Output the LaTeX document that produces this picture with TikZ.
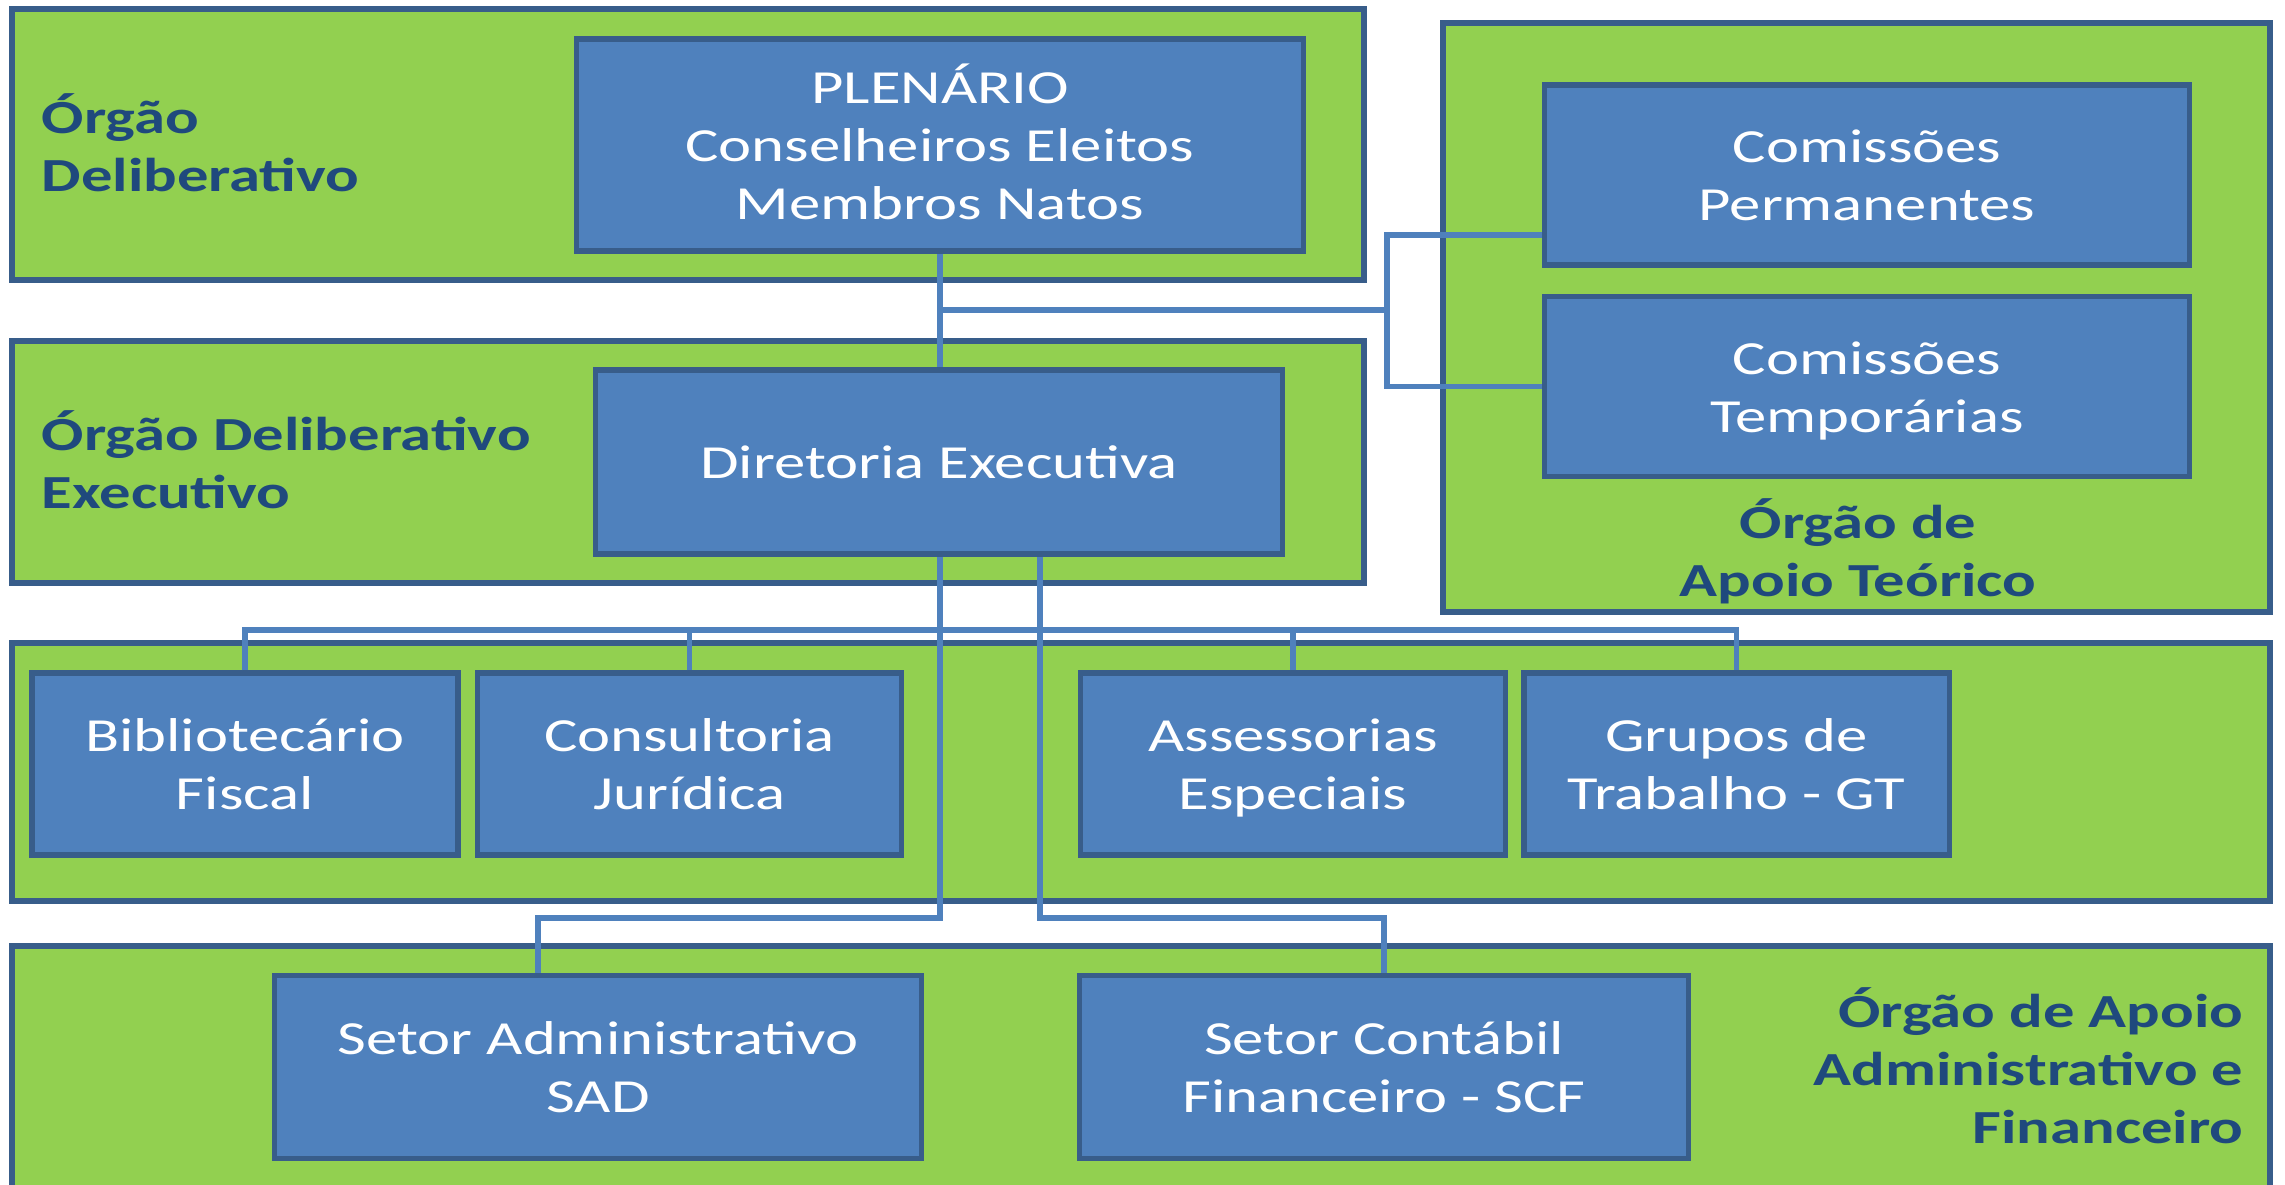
\documentclass[tikz,border=0pt]{standalone}
\usepackage{fontspec}
\setmainfont[FakeStretch=1.32]{Carlito}
\usepackage{tikz}
\usetikzlibrary{positioning, calc}
\definecolor{verde}{HTML}{92D050}
\definecolor{azul}{HTML}{4F81BD}
\definecolor{borda}{HTML}{385D8A}
\definecolor{titulo}{HTML}{1F497D}
% alturas fixas da primeira e da ultima linha
\newcommand{\altura}{\rule{0pt}{13pt}}
\newcommand{\fundo}{\rule[-3.5pt]{0pt}{3.5pt}}
\tikzstyle{faixa} = [draw=borda,fill=verde,line width=1.5pt]
\tikzstyle{caixa} = [rectangle,draw=borda,fill=azul,line width=1.5pt,text=white,align=center,inner sep=0pt,minimum height=1.82cm,font=\fontsize{13.5}{16.5}\selectfont]
\tikzstyle{rotulo} = [text=titulo,inner sep=0pt,font=\bfseries\fontsize{13.5}{16.5}\selectfont]
\tikzstyle{liga} = [draw=azul,line width=1.5pt]

\begin{document}
\begin{tikzpicture}[x=0.01cm,y=-0.01cm]
    \useasboundingbox (0,0) rectangle (2285,1185);
    \clip (0,0) rectangle (2285,1185);
    % faixas
    \draw[faixa] (12,9) rectangle (1364,280);
    \draw[faixa] (12,341) rectangle (1364,583);
    \draw[faixa] (1443,23) rectangle (2270,612);
    \draw[faixa] (12,643) rectangle (2270,901);
    \draw[faixa] (12,946) rectangle (2270,1220);
    % rotulos
    \node[rotulo,anchor=west,align=left] (r_del) at (41,143) {Órgão\\Deliberativo};
    \node[rotulo,anchor=west,align=left] (r_exe) at (41,460) {Órgão Deliberativo\\Executivo};
    \node[rotulo,align=center] (r_teo) at (1858,551) {Órgão de\\Apoio Teórico};
    \node[rotulo,anchor=east,align=right] (r_adm) at (2244,1066) {Órgão de Apoio\\Administrativo e\\Financeiro};
    % caixas
    \node[caixa,minimum width=7.26cm,minimum height=2.12cm] (plenario) at (940,145) {\altura PLENÁRIO\\Conselheiros Eleitos\\Membros Natos\fundo};
    \node[caixa,minimum width=6.86cm,minimum height=1.84cm] (diretoria) at (939,462) {\altura Diretoria Executiva\fundo};
    \node[caixa,minimum width=6.45cm,minimum height=1.80cm] (comP) at (1867,175) {\altura Comissões\\Permanentes\fundo};
    \node[caixa,minimum width=6.45cm,minimum height=1.80cm] (comT) [below=0.26cm of comP] {\altura Comissões\\Temporárias\fundo};
    \node[caixa,minimum width=4.26cm] (biblio) at (245,764) {\altura Bibliotecário\\Fiscal\fundo};
    \node[caixa,minimum width=4.24cm] (consult) [right=0.14cm of biblio] {\altura Consultoria\\Jurídica\fundo};
    \node[caixa,minimum width=4.25cm] (assess) at (1293,764) {\altura Assessorias\\Especiais\fundo};
    \node[caixa,minimum width=4.25cm] (grupos) [right=0.13cm of assess] {\altura Grupos de\\Trabalho - GT\fundo};
    \node[caixa,minimum width=6.46cm,minimum height=1.83cm] (sad) at (598,1067) {\altura Setor Administrativo\\SAD\fundo};
    \node[caixa,minimum width=6.08cm,minimum height=1.83cm] (scf) at (1384,1067) {\altura Setor Contábil\\Financeiro - SCF\fundo};
    % ligacoes
    \coordinate (juncao) at (1387,310);
    \coordinate (barra) at (940,630);
    \coordinate (descSAD) at (538,918);
    \draw[liga] (plenario.south) -- (diretoria.north -| plenario.south);
    \draw[liga] (plenario.south |- juncao) -- (juncao);
    \draw[liga] ([yshift=-0.6cm]comP.west) -| (juncao) |- (comT.west);
    \draw[liga] (biblio.north) |- (barra) -| (grupos.north);
    \draw[liga] (consult.north) -- (consult.north |- barra);
    \draw[liga] (assess.north) -- (assess.north |- barra);
    \draw[liga] (diretoria.south -| plenario.south) |- (descSAD) -- (descSAD |- sad.north);
    \draw[liga] ([xshift=1cm]diretoria.south -| plenario.south) |- (scf.north |- descSAD) -- (scf.north);
\end{tikzpicture}
\end{document}
